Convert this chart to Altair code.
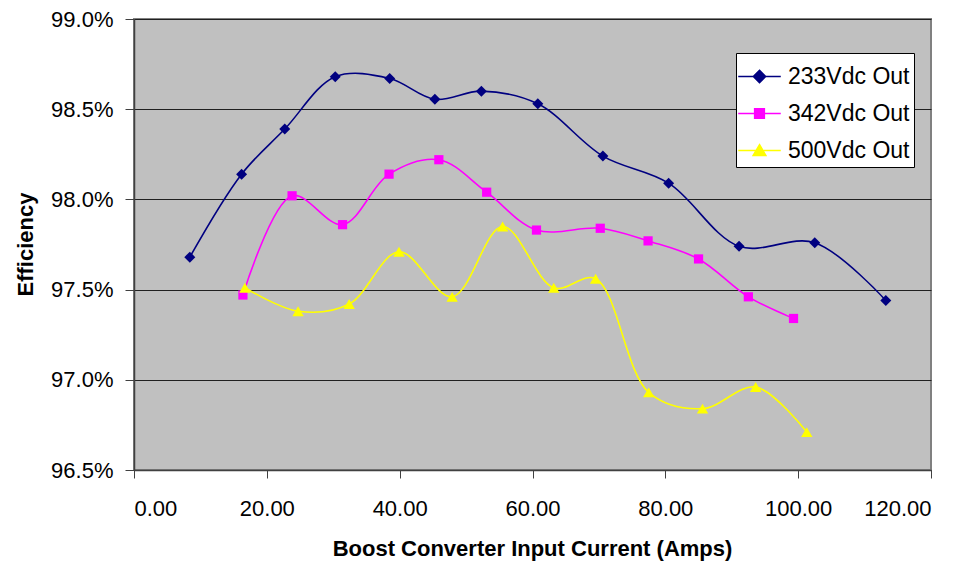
import altair as alt
import pandas as pd

series_names = ["233Vdc Out", "342Vdc Out", "500Vdc Out"]
series_colors = ["#000080", "#FF00FF", "#FFFF00"]
series_shapes = ["diamond", "square", "triangle-up"]
series_sizes = [121, 85, 130]

x_233 = [8.4, 16.2, 22.7, 30.3, 38.5, 45.3, 52.3, 60.8, 70.6, 80.5, 91.1, 102.5, 113.2]
y_233 = [97.68, 98.14, 98.39, 98.68, 98.67, 98.555, 98.60, 98.53, 98.24, 98.09, 97.74, 97.76, 97.44]

x_342 = [16.4, 23.8, 31.4, 38.4, 45.9, 53.1, 60.6, 70.2, 77.4, 85.0, 92.5, 99.3]
y_342 = [97.47, 98.02, 97.86, 98.14, 98.22, 98.04, 97.83, 97.84, 97.77, 97.67, 97.46, 97.34]

x_500 = [16.7, 24.7, 32.4, 39.9, 47.9, 55.5, 63.2, 69.5, 77.5, 85.6, 93.6, 101.3]
y_500 = [97.51, 97.38, 97.42, 97.71, 97.46, 97.85, 97.51, 97.56, 96.93, 96.84, 96.96, 96.71]

x_ticks = [0, 20, 40, 60, 80, 100, 120]
y_ticks = [96.5, 97.0, 97.5, 98.0, 98.5, 99.0]

rows = []
for name, xs, ys in zip(series_names, [x_233, x_342, x_500], [y_233, y_342, y_500]):
    for i, (a, b) in enumerate(zip(xs, ys)):
        rows.append({"series": name, "current": a, "eff": b, "idx": i})
df = pd.DataFrame(rows)

FONT = "Liberation Sans"

# legend symbols: a short line with the series marker in the middle
legend_paths = [
    "M-1.15,0L1.15,0M0,-0.33L0.33,0L0,0.33L-0.33,0Z",
    "M-1.15,0L1.15,0M-0.26,-0.26L0.26,-0.26L0.26,0.26L-0.26,0.26Z",
    "M-1.15,0L1.15,0M0,-0.31L0.34,0.27L-0.34,0.27Z",
]

legend = alt.Legend(
    title=None,
    orient="none",
    legendX=602,
    legendY=34,
    fillColor="white",
    strokeColor="black",
    padding=4,
    labelFont=FONT,
    labelFontSize=23,
    labelColor="black",
    labelOffset=9,
    symbolSize=1369,
    rowPadding=5,
    symbolStrokeWidth=1.6,
    symbolOpacity=1,
)

x_enc = alt.X(
    "current:Q",
    scale=alt.Scale(domain=[0, 120], nice=False),
    axis=alt.Axis(
        values=x_ticks,
        format=".2f",
        grid=False,
        title="Boost Converter Input Current (Amps)",
        titleFont=FONT,
        titleFontSize=22,
        titleFontWeight="bold",
        titleColor="black",
        titleX=398,
        titleY=78,
        titleBaseline="middle",
        labelFont=FONT,
        labelFontSize=22,
        labelColor="black",
        labelPadding=20,
        tickSize=8,
        tickColor="#404040",
        domainColor="#404040",
        domainWidth=1.5,
    ),
)
y_enc = alt.Y(
    "eff:Q",
    scale=alt.Scale(domain=[96.5, 99.0], nice=False, zero=False),
    axis=alt.Axis(
        values=y_ticks,
        labelExpr="format(datum.value, '.1f') + '%'",
        grid=True,
        gridColor="#202020",
        gridWidth=1,
        title="Efficiency",
        titleFont=FONT,
        titleFontSize=22,
        titleFontWeight="bold",
        titleColor="black",
        titleX=-109,
        titleY=225,
        titleAngle=270,
        titleAlign="center",
        titleBaseline="middle",
        labelFont=FONT,
        labelFontSize=22,
        labelColor="black",
        labelPadding=12,
        tickSize=9,
        tickColor="#404040",
        domainColor="#404040",
        domainWidth=1.5,
    ),
)

color_scale = alt.Scale(domain=series_names, range=series_colors)

lines = alt.Chart(df).mark_line(interpolate="catmull-rom", strokeWidth=1.6).encode(
    x=x_enc, y=y_enc,
    color=alt.Color("series:N", scale=color_scale, legend=None),
    order="idx:Q",
)

point_layers = []
for name, shp, sz in zip(series_names, series_shapes, series_sizes):
    point_layers.append(
        alt.Chart(df)
        .transform_filter(alt.datum.series == name)
        .mark_point(filled=True, opacity=1, shape=shp, size=sz)
        .encode(x=x_enc, y=y_enc, color=alt.Color("series:N", scale=color_scale, legend=None))
    )

# legend-only layer: zero-size marks, so only its legend is visible.
# Its scales take their domain from the data, so the legend is not merged
# with the (disabled) colour legend of the other layers.
legend_layer = (
    alt.Chart(df)
    .mark_point(filled=True, opacity=1, strokeWidth=1.6, size=0)
    .encode(
        x=x_enc,
        y=y_enc,
        fill=alt.Fill("series:N", scale=alt.Scale(range=series_colors), legend=legend),
        stroke=alt.Stroke("series:N", scale=alt.Scale(range=series_colors), legend=legend),
        shape=alt.Shape("series:N", scale=alt.Scale(range=legend_paths), legend=legend),
    )
)

chart = (
    alt.layer(lines, *point_layers, legend_layer)
    .properties(
        width=797,
        height=451,
        autosize=alt.AutoSizeParams(type="none"),
        padding={"left": 126, "top": 11, "right": 32, "bottom": 93},
        background="white",
    )
    .configure_view(fill="#C0C0C0", stroke="#808080", strokeWidth=2)
)

chart.save("out.html", embed_options={"renderer": "svg", "actions": False})
